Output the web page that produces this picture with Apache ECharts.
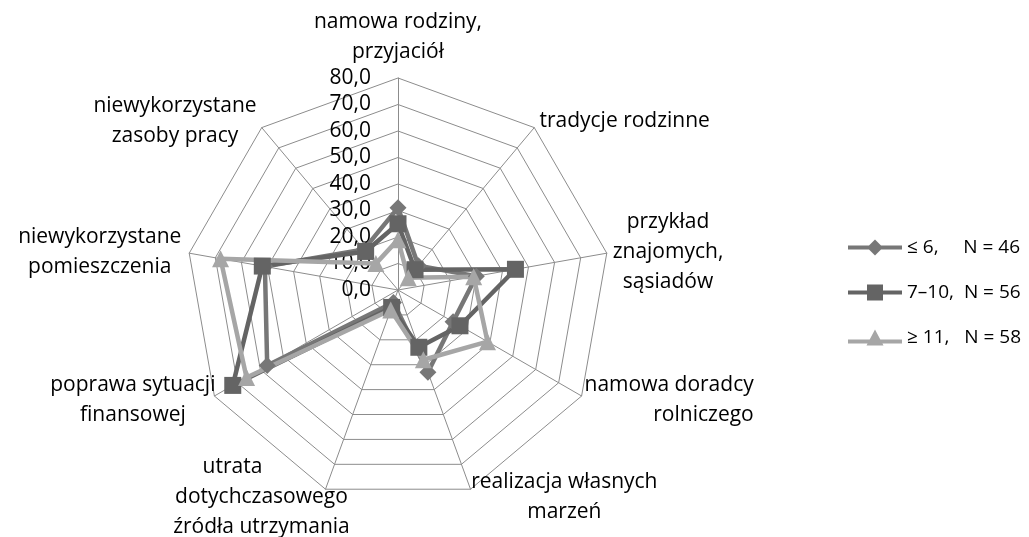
<!DOCTYPE html>
<html>
<head>
<meta charset="utf-8">
<script src="https://cdn.jsdelivr.net/npm/echarts@6/dist/echarts.min.js"></script>
<style>
  html, body { margin: 0; padding: 0; background: #fff; }
  #chart { width: 1029px; height: 537px; }
</style>
</head>
<body>
<div id="chart"></div>
<script>
// osie w kolejności zgodnej z ruchem wskazówek zegara, od góry
var categories = [
  "namowa rodziny,\nprzyjaciół",
  "tradycje rodzinne",
  "przykład\nznajomych,\nsąsiadów",
  "namowa doradcy\nrolniczego",
  "realizacja własnych\nmarzeń",
  "utrata\ndotychczasowego\nźródła utrzymania",
  "poprawa sytuacji\nfinansowej",
  "niewykorzystane\npomieszczenia",
  "niewykorzystane\nzasoby pracy"
];
var seriesNames = ["≤ 6,     N = 46", "7–10,  N = 56", "≥ 11,   N = 58"];
var upTo6 = [31, 12, 30, 24, 33, 5, 57, 51, 20];
var from7to10 = [25, 10, 45, 27, 23, 7, 72, 52, 19];
var from11 = [19, 6, 29, 39, 28, 8, 66, 68, 13];
var tickLabels = ["0,0", "10,0", "20,0", "30,0", "40,0", "50,0", "60,0", "70,0", "80,0"];

var font = '"Open Sans", "DejaVu Sans", sans-serif';
var colors = ["#777777", "#646464", "#a6a6a6"];
var symbols = ["diamond", "rect", "triangle"];

// ikony legendy: linia z markerem (pudełko 54 x 16)
var legendIcons = [
  "path://M0,6L54,6L54,10L0,10Z M27,0L35,8L27,16L19,8Z",
  "path://M0,6L54,6L54,10L0,10Z M19,0L35,0L35,16L19,16Z",
  "path://M0,10L54,10L54,14L0,14Z M27,0L35.5,16L18.5,16Z"
];

// ECharts rysuje osie radaru przeciwnie do wskazówek zegara - odwracamy kolejność
function clockwise(arr) {
  return [arr[0]].concat(arr.slice(1).reverse());
}

// wyrównanie wierszy i przesunięcie poziome etykiet osi
var lineAlign = ["center", "center", "center", "right", "center", "center", "center", "center", "center"];
var shiftX = [0, 0, -2, -4, -2, 27, 8, 0, 0];

var rich = {};
categories.forEach(function (c, i) {
  var pad = [0, 0, 0, 0];
  if (i === 0) pad = [0, 0, 5, 0];
  else if (i <= 4) pad = [0, 0, 0, shiftX[i]];
  else pad = [0, -shiftX[i], 0, 0];
  rich["a" + i] = { align: lineAlign[i], lineHeight: 30, fontSize: 21, fontFamily: font, color: "#000", padding: pad };
});
// pierwszy wiersz "utrata" jest w oryginale przesunięty w lewo
rich.u = { align: "center", lineHeight: 30, fontSize: 21, fontFamily: font, color: "#000", padding: [0, 31, 0, 0] };

var chart = echarts.init(document.getElementById("chart"));

var indicators = clockwise(categories).map(function (name, i) {
  var ind = { name: name, min: 0, max: 80 };
  if (i === 0) {
    ind.axisLabel = {
      show: true,
      margin: 27,
      fontSize: 21,
      fontFamily: font,
      color: "#000",
      formatter: function (v) { return tickLabels[Math.round(v / 10)]; }
    };
  }
  return ind;
});

chart.setOption({
  animation: false,
  legend: {
    orient: "vertical",
    left: 843,
    top: 233,
    itemWidth: 54,
    itemHeight: 16,
    itemGap: 26,
    itemStyle: { borderWidth: 0 },
    textStyle: { fontSize: 19, fontFamily: font, color: "#000" },
    data: seriesNames.map(function (n, i) {
      return { name: n, icon: legendIcons[i] };
    })
  },
  radar: {
    center: [398, 290],
    radius: 212,
    shape: "polygon",
    splitNumber: 8,
    nameGap: 8,
    axisName: {
      color: "#000",
      fontFamily: font,
      fontSize: 21,
      formatter: function (name) {
        var idx = categories.indexOf(name);
        return name.split("\n").map(function (line, k) {
          if (idx === 5 && k === 0) return "{u|" + line + "}";
          return "{a" + idx + "|" + line + "}";
        }).join("\n");
      },
      rich: rich
    },
    axisLine: { lineStyle: { color: "#8c8c8c", width: 1 } },
    splitLine: { lineStyle: { color: "#8c8c8c", width: 1 } },
    splitArea: { show: false },
    indicator: indicators
  },
  series: [
    {
      type: "radar",
      data: [upTo6, from7to10, from11].map(function (vals, i) {
        return {
          name: seriesNames[i],
          value: clockwise(vals),
          symbol: symbols[i],
          symbolSize: 17,
          itemStyle: { color: colors[i] },
          lineStyle: { color: colors[i], width: 4.5 }
        };
      })
    }
  ]
});
</script>
</body>
</html>
